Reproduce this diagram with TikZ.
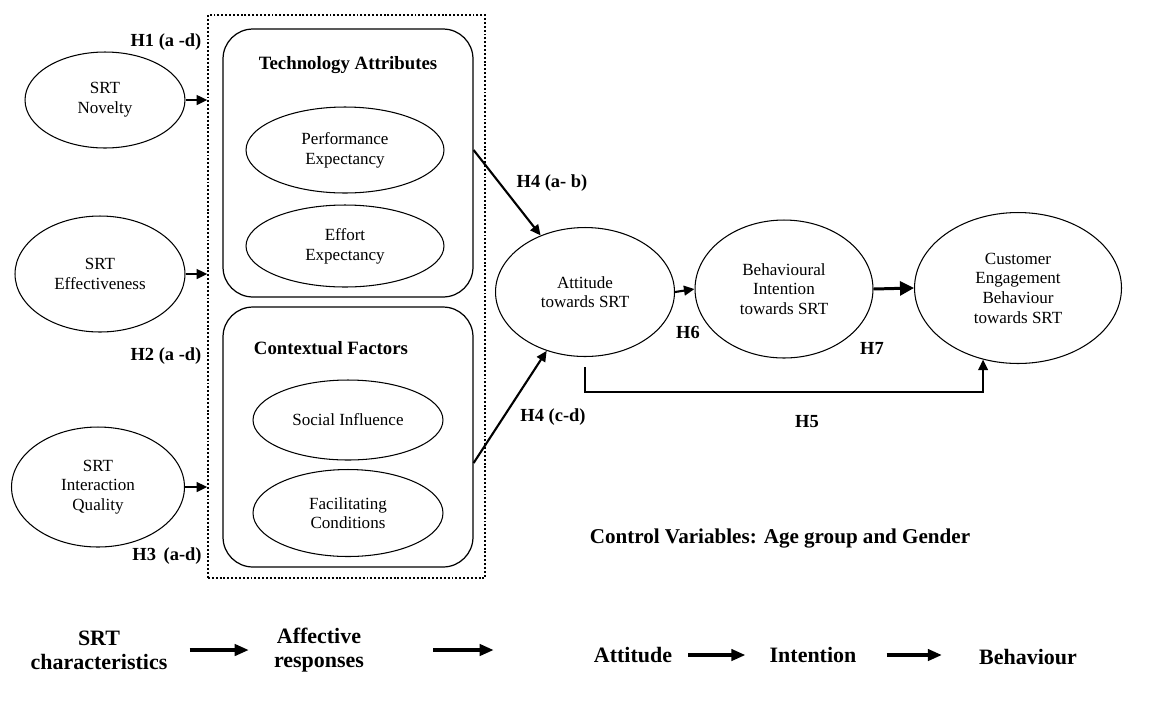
\documentclass[tikz,border=0pt]{standalone}
\usepackage{fontspec}
\setmainfont{Liberation Serif}
\usepackage{tikz}
\usetikzlibrary{arrows.meta}
\usetikzlibrary{positioning}
\usetikzlibrary{shapes.geometric}
\usetikzlibrary{calc}

\tikzset{
    construct/.style = {ellipse, draw, line width=0.6pt, inner sep=0pt, align=center,
                        font=\fontsize{9.7}{11.2}\selectfont},
    group/.style = {rectangle, draw, line width=0.7pt, rounded corners=17pt, minimum width=5cm},
    hyp/.style = {font=\fontsize{10.5}{12}\selectfont\bfseries, inner sep=0pt},
    link/.style = {-{Triangle[length=6pt,width=5.5pt]}, line width=1.2pt},
    stage/.style = {align=center, inner sep=0pt, font=\fontsize{12.5}{13.8}\selectfont\bfseries},
    flow/.style = {-{Triangle[length=8pt,width=6.5pt]}, line width=1.8pt}
}

\begin{document}
\begin{tikzpicture}[x=0.02cm, y=-0.02cm]

            \useasboundingbox (0,0) rectangle (1158,711);

            % SRT characteristics
            \node[construct, minimum width=3.2cm,  minimum height=1.92cm] (srt_nov) at (105,100) {SRT\\Novelty};
            \node[construct, minimum width=3.4cm,  minimum height=2.32cm] (srt_eff) at (100,274) {SRT\\Effectiveness};
            \node[construct, minimum width=3.46cm, minimum height=2.4cm]  (srt_iq)  at (98,487)  {SRT\\Interaction\\Quality};

            % affective responses
            \node[draw, line width=0.9pt, dash pattern=on 1.1pt off 1.1pt,
                  minimum width=5.54cm, minimum height=11.26cm] (aff_box) at (346.5,296.5) {};
            \node[group, minimum height=5.36cm] (tech) at (348,163) {};
            \node[group, minimum height=5.2cm]  (ctx)  at (348,437) {};
            \node[font=\fontsize{10.7}{12}\selectfont\bfseries] (tech_t) at (348,65)  {Technology Attributes};
            \node[font=\fontsize{10.7}{12}\selectfont\bfseries] (ctx_t)  at (331,348) {Contextual Factors};
            \node[construct, minimum width=3.96cm, minimum height=1.72cm] (perf) at (345,150) {Performance\\Expectancy};
            \node[construct, minimum width=3.96cm, minimum height=1.64cm] (effo) at (345,246) {Effort\\Expectancy};
            \node[construct, minimum width=3.8cm,  minimum height=1.6cm]  (soc)  at (348,420) {Social Influence};
            \node[construct, minimum width=3.8cm,  minimum height=1.74cm] (fac)  at (348,513) {Facilitating\\Conditions};

            % attitude, intention, behaviour
            \node[construct, minimum width=3.58cm, minimum height=2.58cm] (att) at (585,292)  {Attitude\\towards SRT};
            \node[construct, minimum width=3.56cm, minimum height=2.76cm] (bi)  at (784,289)  {Behavioural\\Intention\\towards SRT};
            \node[construct, minimum width=4.14cm, minimum height=3.02cm] (ceb) at (1018,288) {Customer\\Engagement\\Behaviour\\towards SRT};

            \coordinate (h5_start) at ($(att.south)+(0,10)$);

            \path[link]
                (srt_nov.east) edge (srt_nov.east -| aff_box.west)
                (srt_eff.east) edge (srt_eff.east -| aff_box.west)
                (srt_iq.east)  edge (srt_iq.east -| aff_box.west)
                (perf.east -| tech.east) edge (att)
                ($(ctx.east)+(0,26)$) edge (att)
                (att.east) edge (bi.west);
            \draw[-{Triangle[length=8pt,width=8pt]}, line width=1.7pt] (bi.east) -- (ceb.west);
            \draw[link] (h5_start) -- ++(0,25) -| (ceb.244);

            \node[hyp] (h1)   at (166,42)  {H1 (a -d)};
            \node[hyp] (h2)   at (166,356) {H2 (a -d)};
            \node[hyp] (h3)   at (167,556) {H3 \,(a-d)};
            \node[hyp] (h4ab) at (552,183) {H4 (a- b)};
            \node[hyp] (h4cd) at (553,417) {H4 (c-d)};
            \node[hyp] (h5)   at (807,422) {H5};
            \node[hyp] (h6)   at (688,332) {H6};
            \node[hyp] (h7)   at (872,348) {H7};

            \node[font=\fontsize{12}{14}\selectfont\bfseries] (ctrl) at (780,538) {Control Variables: Age group and Gender};

            % stages
            \node[stage] (srt_c) at (99,650)   {SRT\\characteristics};
            \node[stage] (aff_r) at (319,650)  {Affective\\responses};
            \node[stage] (att_s) at (633,655)  {Attitude};
            \node[stage] (int_s) at (813,655)  {Intention};
            \node[stage] (beh_s) at (1028,657) {Behaviour};

            \draw[flow, shorten <=0.44cm, shorten >=0.5cm]  (srt_c.east) -- (srt_c.east -| aff_r.west);
            \draw[flow, shorten <=1.38cm, shorten >=2cm]    (aff_r.east) -- (aff_r.east -| att_s.west);
            \draw[flow, shorten <=0.32cm, shorten >=0.48cm] (att_s.east) -- (att_s.east -| int_s.west);
            \draw[flow, shorten <=0.6cm,  shorten >=0.74cm] (int_s.east) -- (int_s.east -| beh_s.west);

        \end{tikzpicture}
\end{document}
